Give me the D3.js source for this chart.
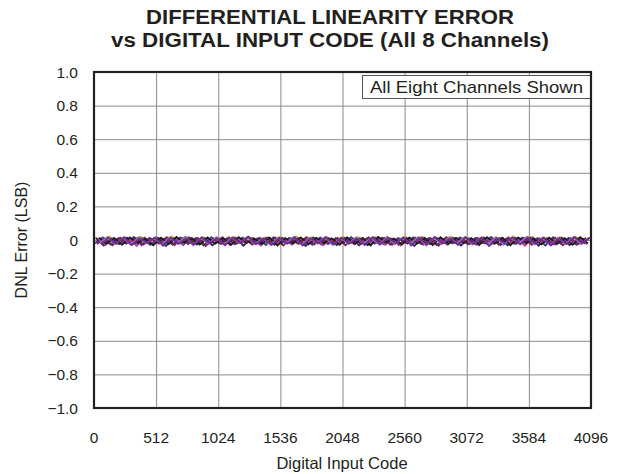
<!DOCTYPE html>
<html>
<head>
<meta charset="utf-8">
<script src="https://cdn.jsdelivr.net/npm/d3@7"></script>
<style>
  html, body { margin: 0; padding: 0; background: #fff; }
  svg text { font-family: "Liberation Sans", Arial, sans-serif; fill: #231f20; }
</style>
</head>
<body>
<svg id="chart" width="621" height="474"></svg>
<script>
/* ===================================
 *  DATA
 * =================================== */
const titleLines = ["DIFFERENTIAL LINEARITY ERROR", "vs DIGITAL INPUT CODE (All 8 Channels)"];
const codeTicks = [0, 512, 1024, 1536, 2048, 2560, 3072, 3584, 4096];
const dnlTicks = [-1.0, -0.8, -0.6, -0.4, -0.2, 0, 0.2, 0.4, 0.6, 0.8, 1.0];
const sampleStep = 64; // one reading every 64 codes per channel
const channelNames = ["CH5", "CH4", "CH7", "CH6", "CH3", "CH1", "CH8", "CH2"];
const channelColors = ["#c9b21c", "#2b3a9a", "#2a2456", "#7a1f3d", "#b03a8c", "#1a1a1a", "#8d6fb5", "#6b2c91"];

// DNL readings (LSB) per channel
const ch1 = [0.014,-0.022,0.011,-0.028,0.016,-0.019,0.009,-0.031,0.013,-0.024,0.018,-0.017,0.010,-0.027,0.015,-0.021,
  0.012,-0.030,0.017,-0.018,0.008,-0.025,0.014,-0.033,0.011,-0.020,0.016,-0.026,0.013,-0.019,0.010,-0.029,
  0.015,-0.023,0.012,-0.032,0.018,-0.016,0.009,-0.027,0.014,-0.021,0.011,-0.030,0.016,-0.024,0.013,-0.018,
  0.010,-0.028,0.017,-0.022,0.012,-0.031,0.015,-0.019,0.008,-0.026,0.014,-0.023,0.011,-0.029,0.016,-0.020];
const ch2 = [-0.026,0.012,-0.021,0.017,-0.030,0.010,-0.018,0.015,-0.034,0.013,-0.023,0.008,-0.027,0.016,-0.020,0.011,
  -0.031,0.014,-0.017,0.019,-0.025,0.009,-0.029,0.012,-0.022,0.015,-0.033,0.010,-0.019,0.017,-0.026,0.013,
  -0.021,0.008,-0.030,0.016,-0.024,0.011,-0.018,0.014,-0.032,0.012,-0.027,0.018,-0.020,0.009,-0.028,0.015,
  -0.023,0.013,-0.035,0.010,-0.019,0.016,-0.026,0.012,-0.022,0.014,-0.031,0.011,-0.024,0.017,-0.018,0.013];
const ch3 = [0.009,-0.029,0.013,-0.020,0.006,-0.034,0.015,-0.023,0.011,-0.018,0.008,-0.030,0.014,-0.025,0.010,-0.021,
  0.016,-0.028,0.007,-0.019,0.012,-0.032,0.015,-0.024,0.009,-0.027,0.013,-0.017,0.011,-0.031,0.006,-0.022,
  0.014,-0.026,0.010,-0.020,0.016,-0.029,0.008,-0.033,0.012,-0.018,0.015,-0.025,0.009,-0.028,0.013,-0.021,
  0.011,-0.030,0.007,-0.023,0.014,-0.019,0.010,-0.034,0.016,-0.024,0.012,-0.027,0.008,-0.020,0.013,-0.026];
const ch4 = [-0.019,0.016,-0.027,0.011,-0.022,0.018,-0.031,0.013,-0.016,0.009,-0.028,0.015,-0.024,0.012,-0.033,0.017,
  -0.020,0.010,-0.026,0.014,-0.017,0.011,-0.030,0.016,-0.023,0.013,-0.019,0.008,-0.029,0.015,-0.025,0.012,
  -0.018,0.017,-0.032,0.010,-0.021,0.014,-0.027,0.011,-0.016,0.016,-0.024,0.013,-0.030,0.009,-0.020,0.015,
  -0.026,0.012,-0.019,0.018,-0.028,0.010,-0.023,0.014,-0.017,0.011,-0.032,0.016,-0.021,0.013,-0.029,0.010];
const ch5 = [0.018,-0.015,0.020,-0.022,0.016,-0.012,0.019,-0.018,0.015,-0.024,0.021,-0.014,0.017,-0.020,0.019,-0.011,
  0.016,-0.023,0.020,-0.016,0.018,-0.013,0.015,-0.021,0.019,-0.017,0.022,-0.012,0.016,-0.019,0.018,-0.025,
  0.020,-0.014,0.017,-0.021,0.019,-0.016,0.015,-0.012,0.021,-0.022,0.018,-0.015,0.016,-0.019,0.020,-0.013,
  0.017,-0.023,0.019,-0.011,0.015,-0.018,0.021,-0.020,0.018,-0.014,0.016,-0.024,0.019,-0.017,0.020,-0.012];
const ch6 = [-0.024,0.010,-0.032,0.014,-0.019,0.012,-0.027,0.009,-0.022,0.016,-0.030,0.011,-0.018,0.013,-0.035,0.010,
  -0.025,0.015,-0.021,0.008,-0.028,0.012,-0.017,0.014,-0.033,0.011,-0.023,0.016,-0.026,0.009,-0.020,0.013,
  -0.031,0.010,-0.024,0.015,-0.018,0.012,-0.029,0.008,-0.022,0.014,-0.027,0.011,-0.034,0.016,-0.019,0.010,
  -0.025,0.013,-0.021,0.009,-0.030,0.015,-0.023,0.012,-0.028,0.010,-0.018,0.014,-0.032,0.011,-0.024,0.013];
const ch7 = [0.012,-0.033,0.008,-0.025,0.014,-0.020,0.010,-0.029,0.013,-0.036,0.009,-0.022,0.015,-0.027,0.011,-0.031,
  0.008,-0.019,0.013,-0.034,0.010,-0.024,0.014,-0.028,0.012,-0.021,0.009,-0.035,0.015,-0.026,0.011,-0.030,
  0.013,-0.018,0.010,-0.032,0.014,-0.023,0.008,-0.029,0.012,-0.036,0.015,-0.025,0.010,-0.020,0.013,-0.033,
  0.009,-0.027,0.014,-0.022,0.011,-0.031,0.012,-0.019,0.015,-0.034,0.010,-0.026,0.013,-0.030,0.008,-0.023];
const ch8 = [-0.016,0.019,-0.024,0.013,-0.028,0.017,-0.020,0.011,-0.025,0.015,-0.018,0.020,-0.031,0.012,-0.022,0.016,
  -0.027,0.014,-0.019,0.018,-0.024,0.010,-0.029,0.015,-0.017,0.019,-0.026,0.012,-0.021,0.017,-0.030,0.013,
  -0.023,0.016,-0.018,0.011,-0.028,0.019,-0.025,0.014,-0.020,0.017,-0.032,0.012,-0.024,0.015,-0.019,0.018,
  -0.027,0.013,-0.022,0.016,-0.029,0.011,-0.018,0.019,-0.025,0.014,-0.031,0.012,-0.021,0.017,-0.026,0.015];
// drawing order, matches channelNames
const channelValues = [ch5, ch4, ch7, ch6, ch3, ch1, ch8, ch2];

/* ===================================
 *  LAYOUT
 * =================================== */
const plot = { left: 94, right: 591, top: 72, bottom: 408 };
const svg = d3.select("#chart");

const x = d3.scaleLinear().domain([0, 4096]).range([plot.left, plot.right]);
const y = d3.scaleLinear().domain([-1, 1]).range([plot.bottom, plot.top]);

/* ===================================
 *  TITLE
 * =================================== */
const titleWidths = [368, 438];
svg.selectAll("text.title")
  .data(titleLines)
  .join("text")
  .attr("class", "title")
  .attr("x", 330)
  .attr("y", (d, i) => 24 + i * 23)
  .attr("text-anchor", "middle")
  .attr("textLength", (d, i) => titleWidths[i])
  .attr("lengthAdjust", "spacingAndGlyphs")
  .style("font-size", "19.5px")
  .style("font-weight", "bold")
  .text(d => d);

/* ===================================
 *  GRID
 * =================================== */
svg.append("g")
  .attr("class", "grid-x")
  .attr("transform", `translate(0,${plot.bottom})`)
  .call(d3.axisBottom(x).tickValues(codeTicks).tickSize(-(plot.bottom - plot.top)).tickFormat(""))
  .call(g => g.select(".domain").remove())
  .call(g => g.selectAll("line").attr("stroke", "#8a8a8a").attr("stroke-width", 1));

svg.append("g")
  .attr("class", "grid-y")
  .attr("transform", `translate(${plot.left},0)`)
  .call(d3.axisLeft(y).tickValues(dnlTicks).tickSize(-(plot.right - plot.left)).tickFormat(""))
  .call(g => g.select(".domain").remove())
  .call(g => g.selectAll("line").attr("stroke", "#8a8a8a").attr("stroke-width", 1));

/* ===================================
 *  LEGEND NOTE
 * =================================== */
svg.append("rect")
  .attr("x", 362.5)
  .attr("y", 75.5)
  .attr("width", plot.right - 362.5)
  .attr("height", 23)
  .attr("fill", "#fff")
  .attr("stroke", "#555")
  .attr("stroke-width", 1);

svg.append("text")
  .attr("x", 476.5)
  .attr("y", 93)
  .attr("text-anchor", "middle")
  .attr("textLength", 213)
  .attr("lengthAdjust", "spacingAndGlyphs")
  .style("font-size", "17px")
  .text("All Eight Channels Shown");

/* ===================================
 *  SERIES
 * =================================== */
const line = d3.line()
  .x(d => x(d[0]))
  .y(d => y(d[1]));

svg.append("g")
  .attr("class", "series")
  .selectAll("path")
  .data(channelValues.map((vals, k) => vals.map((v, i) => [i * sampleStep + k * 8, v])))
  .join("path")
  .attr("d", line)
  .attr("fill", "none")
  .attr("stroke", (d, k) => channelColors[k])
  .attr("stroke-width", 1.8)
  .attr("data-channel", (d, k) => channelNames[k]);

/* ===================================
 *  FRAME
 * =================================== */
svg.append("rect")
  .attr("x", plot.left)
  .attr("y", plot.top)
  .attr("width", plot.right - plot.left)
  .attr("height", plot.bottom - plot.top)
  .attr("fill", "none")
  .attr("stroke", "#231f20")
  .attr("stroke-width", 2.2);

/* ===================================
 *  AXIS LABELS
 * =================================== */
svg.append("g")
  .selectAll("text")
  .data(codeTicks)
  .join("text")
  .attr("x", d => x(d))
  .attr("y", 443)
  .attr("text-anchor", "middle")
  .style("font-size", "15.5px")
  .text(d => d);

svg.append("g")
  .selectAll("text")
  .data(dnlTicks)
  .join("text")
  .attr("x", 78)
  .attr("y", d => y(d) + 5.5)
  .attr("text-anchor", "end")
  .style("font-size", "15.5px")
  .text(d => d === 0 ? "0" : (d < 0 ? "\u2212" + Math.abs(d).toFixed(1) : d.toFixed(1)));

svg.append("text")
  .attr("x", 342)
  .attr("y", 469)
  .attr("text-anchor", "middle")
  .style("font-size", "16.5px")
  .text("Digital Input Code");

svg.append("text")
  .attr("transform", `translate(27,${(plot.top + plot.bottom) / 2}) rotate(-90)`)
  .attr("text-anchor", "middle")
  .style("font-size", "16px")
  .text("DNL Error (LSB)");
</script>
</body>
</html>
